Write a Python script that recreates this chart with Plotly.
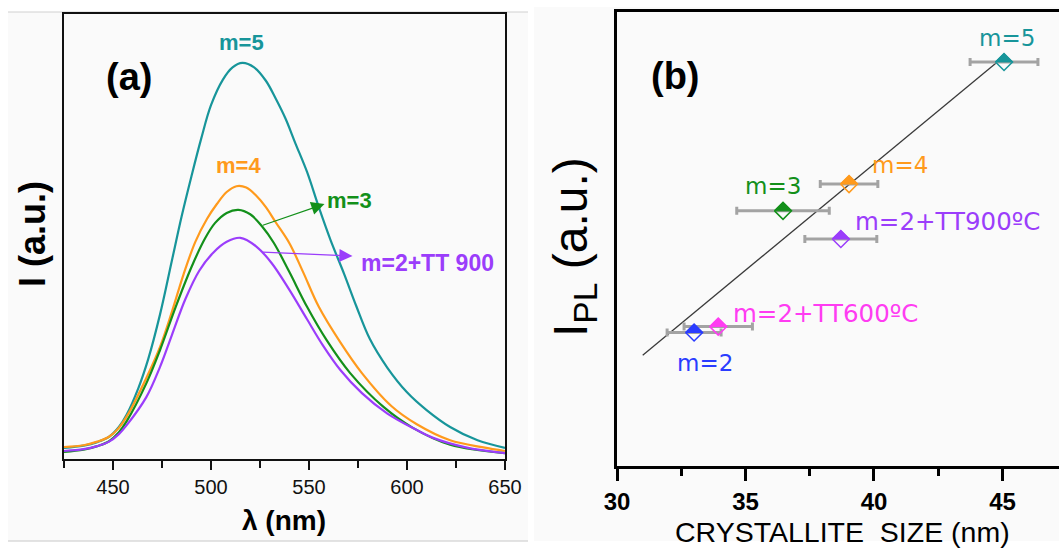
import plotly.graph_objects as go

# ---------------- data: panel (a) PL spectra ----------------
lam_m5 = [425, 435, 442, 448, 453, 457, 463, 468, 474, 480, 485, 490, 495, 500, 506, 511, 516, 522, 528, 533, 538, 543, 549, 555, 561, 568, 574, 581, 590, 600, 610, 622, 636, 650]
int_m5 = [2.5, 3.0, 3.8, 5.0, 7.2, 10.0, 16.0, 22.5, 32.5, 44.5, 54.5, 63.5, 72.0, 79.5, 85.2, 88.0, 89.0, 88.0, 85.0, 81.0, 76.5, 71.0, 64.5, 56.6, 49.2, 41.5, 34.5, 27.0, 20.5, 15.0, 11.0, 7.2, 4.2, 2.5]

lam_m4 = [425, 435, 442, 448, 453, 458, 467, 474, 480, 486, 492, 498, 503, 508, 513, 518, 523, 528, 533, 540, 547, 555, 566, 577, 592, 605, 622, 639, 650]
int_m4 = [2.7, 3.1, 3.9, 5.0, 7.0, 10.3, 18.2, 25.2, 33.0, 41.5, 48.8, 54.0, 57.3, 60.0, 61.3, 61.0, 59.2, 56.6, 53.2, 48.5, 42.0, 34.2, 26.2, 19.3, 11.9, 7.8, 4.2, 2.6, 1.8]

lam_m3 = [425, 435, 442, 448, 453, 457, 467, 474, 482, 490, 497, 502, 508, 514, 520, 526, 532, 540, 549, 559, 571, 588, 603, 622, 650]
int_m3 = [1.6, 2.1, 2.9, 4.0, 6.0, 8.5, 17.0, 24.5, 34.2, 43.1, 49.6, 53.0, 55.3, 56.0, 55.0, 52.3, 48.6, 42.0, 34.2, 26.7, 19.3, 11.7, 7.0, 3.2, 1.3]

lam_tt900 = [425, 435, 442, 448, 453, 457, 467, 474, 480, 487, 494, 501, 508, 515, 523, 531, 540, 549, 557, 566, 577, 590, 605, 613, 630, 650]
int_tt900 = [1.8, 2.2, 2.9, 3.9, 5.6, 7.6, 13.9, 20.7, 27.8, 36.0, 42.3, 46.3, 48.8, 49.7, 47.8, 44.0, 38.0, 31.4, 25.6, 20.0, 14.8, 10.2, 6.5, 4.8, 2.6, 1.3]

x_ticks_a = [450, 500, 550, 600, 650]

# ---------------- data: panel (b) I_PL vs crystallite size ----------------
sample_labels = ["m=2", "m=2+TT600ºC", "m=3", "m=2+TT900ºC", "m=4", "m=5"]
cryst_size = [33.0, 33.94, 36.46, 38.71, 39.03, 45.06]
cryst_err = [1.05, 1.33, 1.8, 1.4, 1.12, 1.32]
ipl = [29.4, 30.7, 56.2, 50.0, 62.1, 89.0]
fit_x = [31.0, 45.0]
fit_y = [24.4, 89.9]
x_ticks_b = [30, 35, 40, 45]

# ---------------- styling ----------------
TEAL = "#17959a"
ORANGE = "#ff9a1c"
GREEN = "#13901a"
PURPLE = "#9b3dfb"
MAGENTA = "#ff3cf2"
BLUE = "#2a3cff"
point_colors = [BLUE, MAGENTA, GREEN, PURPLE, ORANGE, TEAL]

W, H = 1059, 550
FONT = "Liberation Sans, Arial, sans-serif"
LFONT = "DejaVu Sans, sans-serif"


def px(x):
    return x / W


def py(y):
    return 1 - y / H


# pixel geometry of the two plot areas
A_L, A_R, A_T, A_B = 64, 505, 14, 459
B_L, B_R, B_T, B_B = 617, W, 12, 466
XB_RANGE = [30, 47.2]
YB_RANGE = [0, 100]

fig = go.Figure()

for lam, inten, col in [(lam_m5, int_m5, TEAL), (lam_m4, int_m4, ORANGE),
                        (lam_m3, int_m3, GREEN), (lam_tt900, int_tt900, PURPLE)]:
    fig.add_trace(go.Scatter(x=lam, y=inten, mode="lines",
                             line=dict(color=col, width=2.2, shape="spline", smoothing=1.0),
                             xaxis="x", yaxis="y", showlegend=False, hoverinfo="skip"))

# panel (b): fit line
fig.add_trace(go.Scatter(x=fit_x, y=fit_y, mode="lines", line=dict(color="#3a3a3a", width=1.3),
                         xaxis="x2", yaxis="y2", showlegend=False, hoverinfo="skip"))
# error bars
fig.add_trace(go.Scatter(x=cryst_size, y=ipl, mode="markers",
                         marker=dict(size=1, color="rgba(0,0,0,0)"),
                         error_x=dict(type="data", array=cryst_err, color="#a3a3a3", thickness=3, width=4),
                         xaxis="x2", yaxis="y2", showlegend=False, hoverinfo="skip"))

# half-filled diamonds: top half filled
half_px = 8.5
dx = half_px * (XB_RANGE[1] - XB_RANGE[0]) / (B_R - B_L)
dy = half_px * (YB_RANGE[1] - YB_RANGE[0]) / (B_B - B_T)
for cx, cy, col in zip(cryst_size, ipl, point_colors):
    fig.add_trace(go.Scatter(x=[cx - dx, cx, cx + dx, cx - dx], y=[cy, cy + dy, cy, cy],
                             mode="lines", fill="toself", fillcolor=col, line=dict(color=col, width=1),
                             xaxis="x2", yaxis="y2", showlegend=False, hoverinfo="skip"))
    fig.add_trace(go.Scatter(x=[cx - dx, cx, cx + dx, cx, cx - dx], y=[cy, cy + dy, cy, cy - dy, cy],
                             mode="lines", line=dict(color=col, width=1.5),
                             xaxis="x2", yaxis="y2", showlegend=False, hoverinfo="skip"))

ann = []


def label(x, y, text, size, color="black", bold=False, family=FONT, angle=0):
    ann.append(dict(x=px(x), y=py(y), xref="paper", yref="paper", text=text, showarrow=False,
                    xanchor="center", yanchor="middle", textangle=angle,
                    font=dict(family=family, size=size, color=color, weight="bold" if bold else "normal")))


# panel (a) texts
label(129, 77, "(a)", 38, bold=True)
label(241, 42, "m=5", 22, TEAL, bold=True)
label(238, 165, "m=4", 22, ORANGE, bold=True)
label(349, 200, "m=3", 22, GREEN, bold=True)
label(427, 263, "m=2+TT 900", 23, PURPLE, bold=True)
label(32, 234, "I (a.u.)", 36, bold=True, angle=-90)
label(284, 520, "λ (nm)", 28, bold=True)

# arrows in panel (a)
ann.append(dict(x=557.9, y=57.3, ax=525.7, ay=52.4, xref="x", yref="y", axref="x", ayref="y",
                text="", showarrow=True, arrowhead=2, arrowsize=2.2, arrowwidth=1.2, arrowcolor=GREEN))
ann.append(dict(x=572.2, y=45.6, ax=525.7, ay=46.5, xref="x", yref="y", axref="x", ayref="y",
                text="", showarrow=True, arrowhead=2, arrowsize=2.2, arrowwidth=1.2, arrowcolor=PURPLE))

# panel (b) texts
label(675, 76, "(b)", 38, bold=True)
lab_pos = [(705, 363), (825, 313), (773, 186), (947, 222), (900, 165), (1007, 38)]
lab_size = [23, 24.5, 23, 24.5, 23, 23]
for (lx, ly), t, c, s in zip(lab_pos, sample_labels, point_colors, lab_size):
    label(lx, ly, t, s, c, family=LFONT)
label(574, 247, "I<sub>PL</sub> (a.u.)", 48, angle=-90)
label(842, 532, "CRYSTALLITE  SIZE (nm)", 28.5)

shapes = [
    dict(type="rect", xref="paper", yref="paper", x0=px(8), x1=px(528), y0=py(541), y1=py(12),
         fillcolor="#fafafa", line=dict(width=0), layer="below"),
    dict(type="rect", xref="paper", yref="paper", x0=px(534), x1=1, y0=py(541), y1=py(7),
         fillcolor="#fafafa", line=dict(width=0), layer="below"),
    dict(type="line", xref="paper", yref="paper", x0=px(8), x1=px(528), y0=py(12), y1=py(12),
         line=dict(color="#d0d0d0", width=1), layer="below"),
    dict(type="line", xref="paper", yref="paper", x0=px(8), x1=px(528), y0=py(541), y1=py(541),
         line=dict(color="#c8c8c8", width=1), layer="below"),
]

fig.update_layout(
    width=W, height=H, margin=dict(l=0, r=0, t=0, b=0),
    paper_bgcolor="white", plot_bgcolor="rgba(0,0,0,0)",
    showlegend=False, annotations=ann, shapes=shapes,
    font=dict(family=FONT, color="black"),
    xaxis=dict(domain=[px(A_L), px(A_R)], range=[425, 650], anchor="y",
               showline=True, linecolor="#111", linewidth=2, mirror=True,
               ticks="outside", ticklen=9, tickwidth=2, tickcolor="#111",
               tickvals=x_ticks_a, tickfont=dict(size=20, family=FONT, color="#111"),
               minor=dict(ticks="outside", ticklen=7, tickwidth=2, tickcolor="#111", tick0=425, dtick=25),
               showgrid=False, zeroline=False, automargin=False),
    yaxis=dict(domain=[py(A_B), py(A_T)], range=[0, 100], anchor="x",
               showline=True, linecolor="#111", linewidth=2, mirror=True,
               showticklabels=False, ticks="", showgrid=False, zeroline=False, automargin=False),
    xaxis2=dict(domain=[px(B_L), 1], range=XB_RANGE, anchor="y2",
                showline=True, linecolor="black", linewidth=3, mirror=True,
                ticks="outside", ticklen=12, tickwidth=3, tickcolor="black",
                tickvals=x_ticks_b, tickfont=dict(size=24, family=FONT, color="black", weight="bold"),
                minor=dict(ticks="outside", ticklen=7, tickwidth=3, tickcolor="black", tick0=30, dtick=2.5),
                showgrid=False, zeroline=False, automargin=False),
    yaxis2=dict(domain=[py(B_B), py(B_T)], range=YB_RANGE, anchor="x2",
                showline=True, linecolor="black", linewidth=3, mirror=False,
                showticklabels=False, ticks="", showgrid=False, zeroline=False, automargin=False),
)

fig.write_html("out.html")
